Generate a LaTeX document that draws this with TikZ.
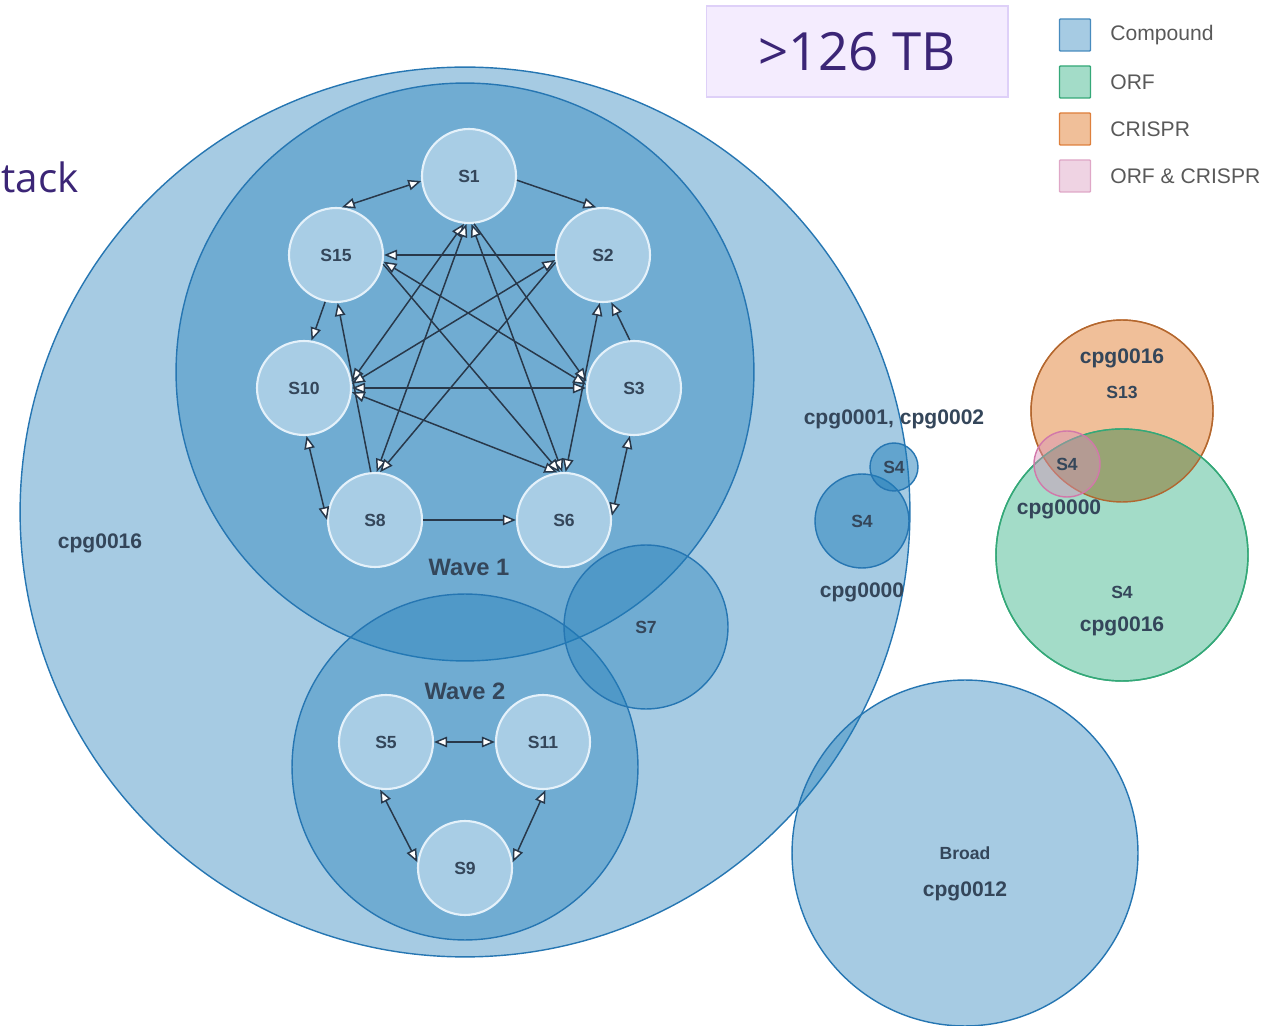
\documentclass[tikz,border=0pt]{standalone}
\usepackage{fontspec}
\setmainfont{Liberation Sans}
\newfontfamily\slidefont{Open Sans}
\usetikzlibrary{arrows.meta}

\definecolor{setblue}{RGB}{32,125,185}
\definecolor{setline}{RGB}{38,118,178}
\definecolor{sitefill}{RGB}{168,205,229}
\definecolor{siteline}{RGB}{228,241,250}
\definecolor{ink}{RGB}{52,70,90}
\definecolor{edgeink}{RGB}{40,56,74}
\definecolor{orf}{RGB}{163,220,200}
\definecolor{orfline}{RGB}{52,168,120}
\definecolor{crispr}{RGB}{240,191,153}
\definecolor{crisprline}{RGB}{222,128,60}
\definecolor{overlap}{RGB}{152,164,116}
\definecolor{both}{RGB}{215,145,185}
\definecolor{bothline}{RGB}{210,120,170}
\definecolor{tbfill}{RGB}{244,236,254}
\definecolor{tbline}{RGB}{222,208,248}
\definecolor{tbink}{RGB}{59,37,118}

\begin{document}
\begin{tikzpicture}
    \tikzset{x=0.02cm, y=-0.02cm}
    \tikzstyle{set}=[draw=setline, line width=0.8pt, fill=setblue, fill opacity=0.4]
    \tikzstyle{site}=[circle, draw=siteline, line width=1.2pt, fill=sitefill, minimum size=1.88cm, inner sep=0pt, text=ink, font=\bfseries\fontsize{10}{12}\selectfont]
    \tikzstyle{link}=[draw=edgeink, line width=0.85pt, >={Triangle[length=2.6mm, width=2.1mm, fill=white]}]
    \tikzstyle{sname}=[text=ink, font=\bfseries\fontsize{10}{12}\selectfont]
    \tikzstyle{cname}=[text=ink, font=\bfseries\fontsize{12}{14}\selectfont]
    \tikzstyle{wname}=[text=ink, font=\bfseries\fontsize{13.5}{16}\selectfont]
    \tikzstyle{key}=[rectangle, line width=0.8pt, minimum width=0.62cm, minimum height=0.64cm, rounded corners=0.5pt]
    \tikzstyle{keytext}=[anchor=west, inner sep=0pt, text=black!65, font=\fontsize{12}{14}\selectfont]

    \useasboundingbox (0, 0) rectangle (1278, 1026);

    % compound sets
    \draw[set] (465, 512) circle (8.9cm);
    \draw[set] (465, 372) circle (5.78cm);
    \draw[set] (465, 767) circle (3.46cm);
    \draw[set] (646, 627) circle (1.64cm);
    \draw[set] (965, 853) circle (3.46cm);
    \draw[set, fill opacity=0.5] (862, 521) circle (0.94cm);
    \draw[set, fill opacity=0.5] (894, 467) circle (0.48cm);

    % crispr / orf
    \draw[draw=crisprline, line width=0.8pt, fill=crispr] (1122, 411) circle (1.82cm);
    \draw[draw=orfline, line width=0.8pt, fill=orf] (1122, 555) circle (2.52cm);
    \begin{scope}
        \clip (1122, 411) circle (1.82cm);
        \fill[overlap] (1122, 555) circle (2.52cm);
    \end{scope}
    \draw[crisprline!80!black, line width=0.8pt] (1122, 411) circle (1.82cm);
    \draw[orfline, line width=0.8pt] (1122, 555) circle (2.52cm);
    \draw[draw=bothline, line width=0.8pt, fill=both, fill opacity=0.45] (1067, 464) circle (0.66cm);

    % wave 1
    \draw (469, 176)    node[site]  (S1)    {S1};
    \draw (603, 255)    node[site]  (S2)    {S2};
    \draw (336, 255)    node[site]  (S15)   {S15};
    \draw (304, 388)    node[site]  (S10)   {S10};
    \draw (634, 388)    node[site]  (S3)    {S3};
    \draw (375, 520)    node[site]  (S8)    {S8};
    \draw (564, 520)    node[site]  (S6)    {S6};

    % wave 2
    \draw (386, 742)    node[site]  (S5)    {S5};
    \draw (543, 742)    node[site]  (S11)   {S11};
    \draw (465, 868)    node[site]  (S9)    {S9};

    \draw [link, <->]   (S1.186)  -- (S15.83);
    \draw [link, ->]    (S1.355)  -- (S2.98);
    \draw [link, ->]    (S2.west) -- (S15.east);
    \draw [link, <->]   (S1.264)  -- (S10.8);
    \draw [link, <->]   (S1.267)  -- (S8.88);
    \draw [link, <->]   (S1.273)  -- (S6.92);
    \draw [link, ->]    (S1.276)  -- (S3.172);
    \draw [link, <->]   (S15.352) -- (S3.176);
    \draw [link, ->]    (S15.349) -- (S6.95);
    \draw [link, ->]    (S15.257) -- (S10.81);
    \draw [link, ->]    (S8.95)   -- (S15.272);
    \draw [link, <->]   (S2.186)  -- (S10.5);
    \draw [link, ->]    (S2.189)  -- (S8.84);
    \draw [link, <->]   (S10.east) -- (S3.west);
    \draw [link, <->]   (S10.355) -- (S6.98);
    \draw [link, <->]   (S10.273) -- (S8.west);
    \draw [link, ->]    (S8.east) -- (S6.west);
    \draw [link, <->]   (S3.265)  -- (S6.5);
    \draw [link, ->]    (S3.95)   -- (S2.280);
    \draw [link, <->]   (S6.88)   -- (S2.266);

    \draw [link, <->]   (S5.east) -- (S11.west);
    \draw [link, <->]   (S5.263)  -- (S9.173);
    \draw [link, <->]   (S9.7)    -- (S11.273);

    % set names
    \draw (100, 543)    node[cname] (all)   {cpg0016};
    \draw (469, 567)    node[wname] (w1)    {Wave 1};
    \draw (465, 691)    node[wname] (w2)    {Wave 2};
    \draw (646, 627)    node[sname] (S7)    {S7};
    \draw (894, 419)    node[cname] (c12)   {cpg0001, cpg0002};
    \draw (894, 467)    node[sname] (S4a)   {S4};
    \draw (862, 521)    node[sname] (S4b)   {S4};
    \draw (862, 592)    node[cname] (c0)    {cpg0000};
    \draw (965, 853)    node[sname] (broad) {Broad};
    \draw (965, 891)    node[cname] (c12b)  {cpg0012};
    \draw (1122, 358)   node[cname] (cr16)  {cpg0016};
    \draw (1122, 392)   node[sname] (S13)   {S13};
    \draw (1067, 464)   node[sname] (S4c)   {S4};
    \draw (1059, 509)   node[cname] (cr0)   {cpg0000};
    \draw (1122, 592)   node[sname] (S4d)   {S4};
    \draw (1122, 626)   node[cname] (or16)  {cpg0016};

    % legend
    \draw (1075, 35)    node[key, fill=setblue!40, draw=setline!85]   (kcomp) {};
    \draw (1075, 82)    node[key, fill=orf, draw=orfline]              (korf)  {};
    \draw (1075, 129)   node[key, fill=crispr, draw=crisprline]        (kcr)   {};
    \draw (1075, 176)   node[key, fill=both!40, draw=both!80]          (kboth) {};
    \draw (1110, 35)    node[keytext] (tcomp) {Compound};
    \draw (1110, 82)    node[keytext] (torf)  {ORF};
    \draw (1110, 129)   node[keytext] (tcr)   {CRISPR};
    \draw (1110, 176)   node[keytext] (tboth) {ORF \& CRISPR};

    \draw (857, 51.5)   node[rectangle, draw=tbline, fill=tbfill, line width=0.6pt, minimum width=6.04cm, minimum height=1.82cm, text=tbink, font=\slidefont\fontsize{30}{36}\selectfont] (size) {>126 TB};
    \draw (1, 193)      node[anchor=base west, inner sep=0pt, text=tbink, font=\slidefont\fontsize{23}{28}\selectfont] (deck) {tack};
\end{tikzpicture}
\end{document}
